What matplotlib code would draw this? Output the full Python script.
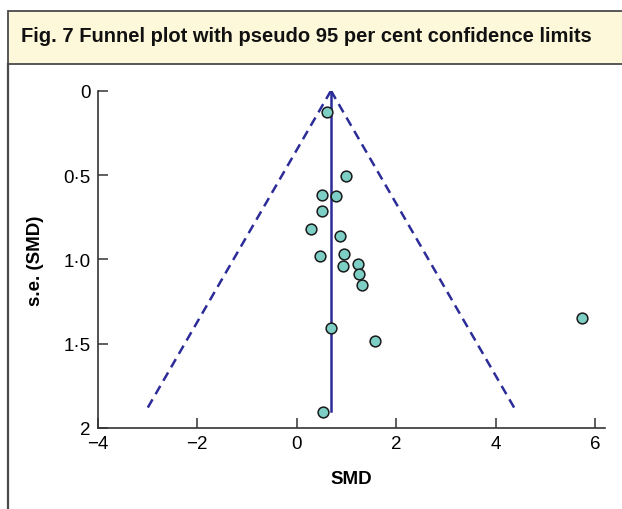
import matplotlib.pyplot as plt
from matplotlib.patches import Rectangle
from matplotlib.lines import Line2D
import numpy as np

plt.rcParams['font.family'] = ['Liberation Sans', 'DejaVu Sans']

# Studies: standardised mean difference and its standard error
smd = [0.62, 0.99, 0.50, 0.79, 0.515, 0.28, 0.87, 0.47, 0.95, 0.94,
       1.23, 1.26, 1.32, 0.69, 1.58, 5.73, 0.52]
se = [0.124, 0.507, 0.616, 0.626, 0.711, 0.82, 0.86, 0.978, 0.968, 1.037,
      1.027, 1.087, 1.152, 1.41, 1.486, 1.35, 1.906]

pooled = 0.69
se_max = 1.90
z95 = 1.96

yticks = [0, 0.5, 1.0, 1.5, 2]
ytick_labels = ['0', '0·5', '1·0', '1·5', '2']
xticks = [-4, -2, 0, 2, 4, 6]
xtick_labels = ['−4', '−2', '0', '2', '4', '6']

title = 'Fig. 7 Funnel plot with pseudo 95 per cent confidence limits'

W, H = 622, 510
fig = plt.figure(figsize=(W / 100, H / 100), dpi=100)

# header box
border = '#4a4a4a'
fig.patches.append(Rectangle((8 / W, 1 - 65 / H), 1, 53 / H, transform=fig.transFigure,
                             facecolor='#fdf8da', edgecolor=border, linewidth=1.3))
fig.lines.append(Line2D([8 / W, 8 / W], [0, 1 - 65 / H], transform=fig.transFigure,
                        color=border, linewidth=1.6))
fig.text(21 / W, 1 - 37 / H, title, fontsize=14.5, fontweight='bold',
         ha='left', va='center', color='#111111')

ax = fig.add_axes([97.7 / W, 1 - 429 / H, (605 - 97.7) / W, (429 - 91.7) / H])

navy = '#2b2c98'
se_line = np.array([0, se_max])
ax.plot(pooled - z95 * se_line, se_line, color=navy, lw=1.8, ls=(0, (3.8, 2.4)))
ax.plot(pooled + z95 * se_line, se_line, color=navy, lw=1.8, ls=(0, (3.8, 2.4)))
ax.plot([pooled, pooled], se_line, color=navy, lw=1.8)

ax.scatter(smd, se, s=60, facecolor='#7dcfc5', edgecolor='#1a1a1a', linewidth=1.1,
           zorder=3)

ax.set_xlim(-4, 6.2)
ax.set_ylim(2, 0)
ax.set_xticks(xticks)
ax.set_xticklabels(xtick_labels)
ax.set_yticks(yticks)
ax.set_yticklabels(ytick_labels)
ax.tick_params(direction='in', length=7, width=1.1, color='#333333',
               labelsize=13.5, pad=5)
for side in ['top', 'right']:
    ax.spines[side].set_visible(False)
for side in ['left', 'bottom']:
    ax.spines[side].set_linewidth(1.2)
    ax.spines[side].set_color('#333333')

ax.set_xlabel('SMD', fontsize=13.5, fontweight='bold', labelpad=13)
ax.set_ylabel('s.e. (SMD)', fontsize=13.5, fontweight='bold', labelpad=14)

fig.savefig('out.png', dpi=100)
